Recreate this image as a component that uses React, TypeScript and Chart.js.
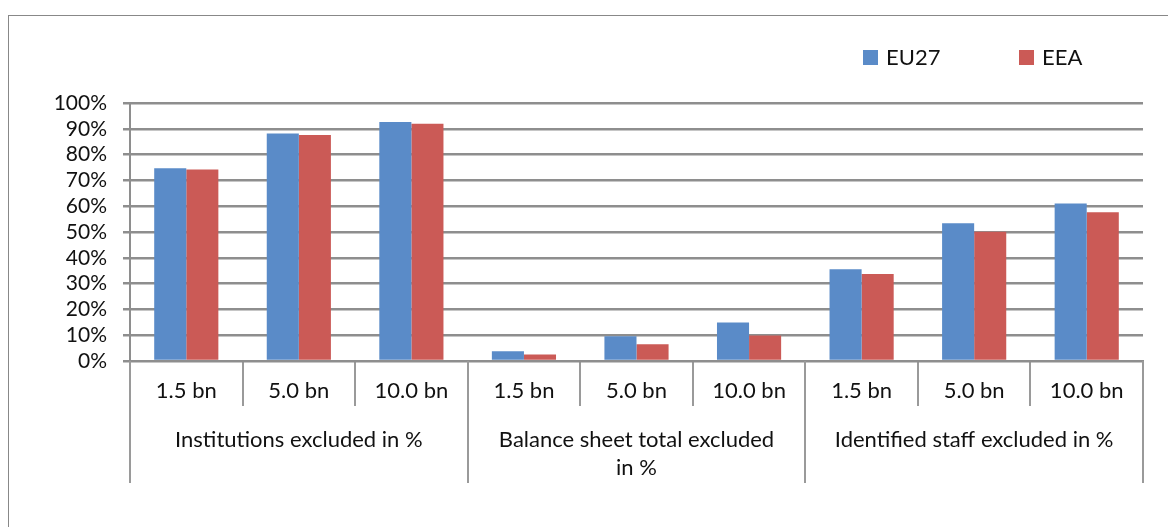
import React, { useEffect, useRef } from 'react';
import { Chart, registerables } from 'chart.js';

Chart.register(...registerables);

const categories = ['1.5 bn', '5.0 bn', '10.0 bn', '1.5 bn', '5.0 bn', '10.0 bn', '1.5 bn', '5.0 bn', '10.0 bn'];
const groupLabels = [['Institutions excluded in %'], ['Balance sheet total excluded', 'in %'], ['Identified staff excluded in %']];
const groupSizes = [3, 3, 3];
const seriesNames = ['EU27', 'EEA'];
const eu27 = [74.7, 88.2, 92.6, 3.8, 9.6, 14.9, 35.6, 53.4, 61.0];
const eea = [74.2, 87.6, 92.0, 2.5, 6.5, 9.9, 33.7, 50.1, 57.7];
const yMin = 0;
const yMax = 100;
const yStep = 10;

const FONT = 'Lato, "Open Sans", sans-serif';
const GRID = '#8e8e8e';
const TICK = '#9a9a9a';
const BLUE = '#5A8BC8';
const RED = '#CB5A56';

const decorPlugin = {
  id: 'decor',
  afterDraw(chart: any) {
    const { ctx, chartArea, scales } = chart;
    const x = scales.x;
    const half = (x.getPixelForValue(1) - x.getPixelForValue(0)) / 2;
    const bottom = chartArea.bottom;
    const bounds = [0];
    groupSizes.forEach((s) => bounds.push(bounds[bounds.length - 1] + s));
    ctx.save();
    ctx.strokeStyle = TICK;
    ctx.lineWidth = 2;
    bounds.forEach((b) => {
      const px = Math.round(x.getPixelForValue(b) - half);
      ctx.beginPath();
      ctx.moveTo(px, bottom);
      ctx.lineTo(px, bottom + 122);
      ctx.stroke();
    });
    ctx.fillStyle = '#111';
    ctx.font = `22px ${FONT}`;
    ctx.textAlign = 'center';
    ctx.textBaseline = 'middle';
    groupLabels.forEach((lines, g) => {
      const c = (x.getPixelForValue(bounds[g]) + x.getPixelForValue(bounds[g + 1] - 1)) / 2;
      lines.forEach((t, i) => ctx.fillText(t, c, bottom + 79 + i * 28));
    });
    // legend
    const offsets = [-280, -124];
    ctx.font = `22px ${FONT}`;
    ctx.textAlign = 'left';
    chart.data.datasets.forEach((ds: any, i: number) => {
      const lx = chartArea.right + offsets[i];
      ctx.fillStyle = ds.backgroundColor;
      ctx.fillRect(lx, 34, 15, 15);
      ctx.fillStyle = '#111';
      ctx.fillText(ds.label, lx + 23, 42);
    });
    ctx.restore();
  },
};

export default function App() {
  const ref = useRef<HTMLCanvasElement | null>(null);
  useEffect(() => {
    if (!ref.current) return;
    const chart = new Chart(ref.current, {
      type: 'bar',
      data: {
        labels: categories,
        datasets: [
          { label: seriesNames[0], data: eu27, backgroundColor: BLUE, categoryPercentage: 0.57, barPercentage: 1.0 },
          { label: seriesNames[1], data: eea, backgroundColor: RED, categoryPercentage: 0.57, barPercentage: 1.0 },
        ],
      },
      options: {
        animation: false,
        responsive: true,
        maintainAspectRatio: false,
        layout: { padding: { top: 87, right: 25, left: 0, bottom: 0 } },
        plugins: { legend: { display: false }, tooltip: { enabled: false } },
        scales: {
          x: {
            grid: { offset: true, drawOnChartArea: false, drawTicks: true, tickLength: 45, color: TICK, lineWidth: 2 },
            border: { display: true, color: GRID, width: 2 },
            ticks: { color: '#111', font: { family: FONT, size: 22 }, padding: -28, autoSkip: false, maxRotation: 0 },
            afterFit: (s: any) => { s.height = 166; },
          },
          y: {
            min: yMin,
            max: yMax,
            ticks: { stepSize: yStep, autoSkip: false, color: '#111', font: { family: FONT, size: 21 }, padding: 16, callback: (v: any) => `${v}%` },
            grid: { color: GRID, lineWidth: 2.5, tickLength: 7, drawTicks: true },
            border: { display: true, color: GRID, width: 2 },
            afterFit: (s: any) => { s.width = 121; },
          },
        },
      },
      plugins: [decorPlugin],
    });
    return () => chart.destroy();
  }, []);
  return (
    <div style={{ position: 'fixed', left: 8, top: 15, width: 1160, height: 512, borderLeft: '1px solid #888', borderTop: '1px solid #888', boxSizing: 'border-box', overflow: 'hidden', background: '#fff' }}>
      <div style={{ position: 'relative', width: 1159, height: 511 }}>
        <canvas ref={ref} />
      </div>
    </div>
  );
}
